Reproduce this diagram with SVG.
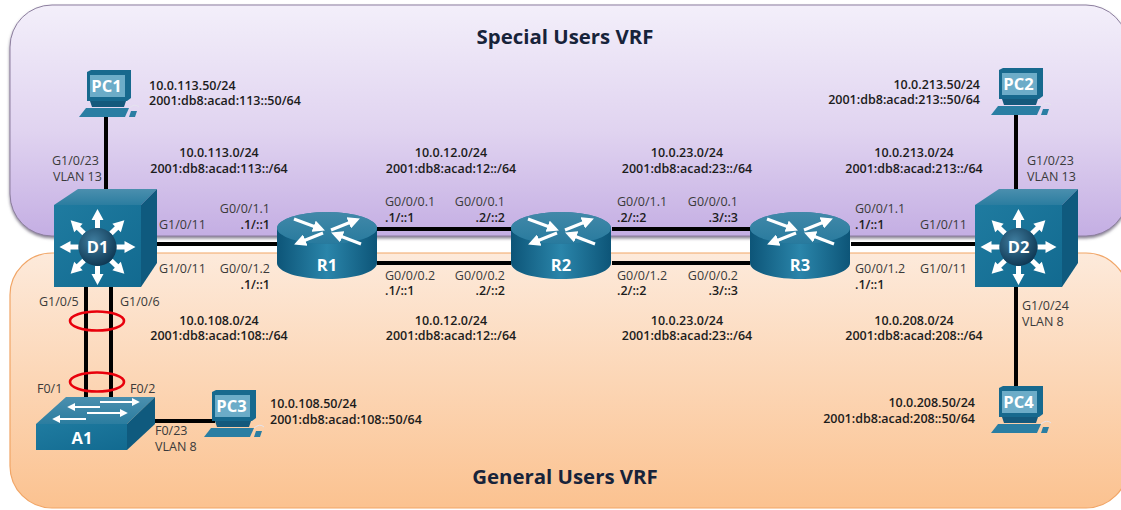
<svg xmlns="http://www.w3.org/2000/svg" width="1121" height="510" viewBox="0 0 1121 510">
<style>
text{font-family:"Open Sans","Liberation Sans",sans-serif;font-size:12.5px;fill:#3a3a3a}
.b{font-size:12.5px;font-weight:600;fill:#1c1c1c}
.m{text-anchor:middle}
.e{text-anchor:end}
.t{font-size:20.4px;font-weight:700;fill:#17233a;text-anchor:middle}
.n{font-weight:700;fill:#fff;text-anchor:middle;font-size:16.500px}
.l{stroke:#000;stroke-width:4;fill:none}
.r{fill:none;stroke:#e8000c;stroke-width:2.6}
.w{stroke:#fff;stroke-width:3;fill:none}
.s{stroke-width:2}
</style>
<defs>
<linearGradient id="gp" x1="0" y1="0" x2="0" y2="1"><stop offset="0" stop-color="#f3effa"/><stop offset=".55" stop-color="#e0d3f0"/><stop offset="1" stop-color="#c4aee3"/></linearGradient>
<linearGradient id="go" x1="0" y1="0" x2="0" y2="1"><stop offset="0" stop-color="#fdeadb"/><stop offset="1" stop-color="#fbc290"/></linearGradient>
<linearGradient id="gf" x1="0" y1="0" x2="1" y2="1"><stop offset="0" stop-color="#1f7ba0"/><stop offset="1" stop-color="#126a90"/></linearGradient>
<linearGradient id="gt" x1="0" y1="0" x2="0" y2="1"><stop offset="0" stop-color="#4b8fae"/><stop offset="1" stop-color="#2b7da0"/></linearGradient>
<linearGradient id="gs" x1="0" y1="0" x2="1" y2="0"><stop offset="0" stop-color="#0d5578"/><stop offset=".5" stop-color="#2a85aa"/><stop offset="1" stop-color="#0d5578"/></linearGradient>
<radialGradient id="gb" cx=".4" cy=".35" r=".7"><stop offset="0" stop-color="#3f7d9f"/><stop offset="1" stop-color="#0d3550"/></radialGradient>
<filter id="sh" x="-2%" y="-2%" width="104%" height="108%"><feDropShadow dx="0" dy="2" stdDeviation="1.5" flood-color="#6c6478" flood-opacity=".8"/></filter>
<marker id="ah" markerWidth="4" markerHeight="4" refX="2.6" refY="2" orient="auto"><path d="M0 0L4 2L0 4Z" fill="#fff"/></marker>
<g id="arr"><path d="M-2.500 -19V-27H-6L0 -38L6 -27H2.500V-19Z" fill="#fff"/></g>
<g id="mls">
<path d="M0 16L24 0H103L87 16Z" fill="url(#gt)"/>
<path d="M87 16L103 0V74L87 98Z" fill="#0f5a7e"/>
<rect x="0" y="16" width="87" height="82" fill="url(#gf)"/>
<g transform="translate(43.500 58)">
<use href="#arr"/><use href="#arr" transform="rotate(45)"/><use href="#arr" transform="rotate(90)"/><use href="#arr" transform="rotate(135)"/><use href="#arr" transform="rotate(180)"/><use href="#arr" transform="rotate(225)"/><use href="#arr" transform="rotate(270)"/><use href="#arr" transform="rotate(315)"/>
<circle r="19" fill="url(#gb)"/>
</g>
</g>
<g id="rtr">
<path d="M0 16V51C0 60 22 67 50 67S100 60 100 51V16Z" fill="url(#gs)"/>
<ellipse cx="50" cy="16" rx="50" ry="16" fill="#1c6f94"/>
<ellipse cx="50" cy="16" rx="50" ry="16" fill="url(#gt)" opacity=".8"/>
<path class="w" marker-end="url(#ah)" d="M17 7L44 17"/>
<path class="w" marker-end="url(#ah)" d="M54 18L79 8"/>
<path class="w" marker-end="url(#ah)" d="M46 21L21 31"/>
<path class="w" marker-end="url(#ah)" d="M84 32L58 22"/>
</g>
<g id="pc">
<path d="M8 2L12 0H52V28L48 31H8Z" fill="#17698e"/>
<rect x="11" y="5" width="35" height="22" fill="#6cacc8"/>
<path d="M11 31H47L45 37H13Z" fill="#14597c"/>
<path d="M0 47L7 38H50L46 47Z" fill="#2a7ea3"/>
<path d="M50 47L52 41H58L56 47Z" fill="#2a7ea3"/>
<path d="M50 38Q56 33 60 37" fill="none" stroke="#e4e4ee" stroke-width="1"/>
</g>
</defs>

<g id="panels">
<rect id="special-vrf" x="10" y="5" width="1118" height="231" rx="42" fill="url(#gp)" stroke="#8d7f9f" filter="url(#sh)"/>
<rect id="general-vrf" x="10" y="253" width="1118" height="255" rx="42" fill="url(#go)" stroke="#f1a566" stroke-width="1.2"/>
<text class="t" x="565" y="44">Special Users VRF</text>
<text class="t" x="565" y="484">General Users VRF</text>
</g>

<g id="connectors">
<path class="l" d="M106 117V190"/>
<path class="l" d="M1016 115V190"/>
<path class="l" d="M1016 287V386"/>
<path class="l" d="M157 244H277"/>
<path class="l" d="M377 229H511"/>
<path class="l" d="M377 263H511"/>
<path class="l" d="M612 229H750"/>
<path class="l" d="M612 263H750"/>
<path class="l" d="M851 244H975"/>
<path class="l" d="M86 287V398"/>
<path class="l" d="M111 287V398"/>
<path class="l" d="M155 421H215"/>
<ellipse class="r" cx="97" cy="321" rx="27" ry="9.500"/>
<ellipse class="r" cx="97" cy="382" rx="27" ry="9.500"/>
</g>

<g id="PC1"><use href="#pc" x="79" y="70"/><text class="n" x="106.500" y="92">PC1</text>
<text class="b" x="149" y="90">10.0.113.50/24</text><text class="b" x="149" y="105">2001:db8:acad:113::50/64</text></g>
<g id="PC2"><use href="#pc" x="991" y="68"/><text class="n" x="1018.500" y="90">PC2</text>
<text class="b e" x="980" y="89">10.0.213.50/24</text><text class="b e" x="980" y="104">2001:db8:acad:213::50/64</text></g>
<g id="PC3"><use href="#pc" x="204" y="390"/><text class="n" x="231.500" y="412">PC3</text>
<text class="b" x="270" y="408">10.0.108.50/24</text><text class="b" x="270" y="424">2001:db8:acad:108::50/64</text></g>
<g id="PC4"><use href="#pc" x="991" y="386"/><text class="n" x="1018.500" y="408">PC4</text>
<text class="b e" x="975" y="407">10.0.208.50/24</text><text class="b e" x="975" y="423">2001:db8:acad:208::50/64</text></g>

<g id="D1"><use href="#mls" x="54" y="189"/><text class="n" x="97.500" y="253">D1</text></g>
<g id="D2"><use href="#mls" x="975" y="189"/><text class="n" x="1018.500" y="253">D2</text></g>
<g id="R1"><use href="#rtr" x="277" y="212"/><text class="n" x="327" y="271">R1</text></g>
<g id="R2"><use href="#rtr" x="511" y="212"/><text class="n" x="561" y="271">R2</text></g>
<g id="R3"><use href="#rtr" x="750" y="212"/><text class="n" x="800" y="271">R3</text></g>
<g id="A1">
<path d="M36 424L66 397H155L127 424Z" fill="url(#gt)"/>
<path d="M127 424L155 397V424L127 450Z" fill="#0f5a7e"/>
<rect x="36" y="424" width="91" height="26" fill="url(#gf)"/>
<path class="w s" marker-end="url(#ah)" d="M100 402H137"/>
<path class="w s" marker-end="url(#ah)" d="M100 407H70"/>
<path class="w s" marker-end="url(#ah)" d="M87 413H125"/>
<path class="w s" marker-end="url(#ah)" d="M86 419H55"/>
<text class="n" x="82" y="444">A1</text>
</g>

<g id="labels">
<text x="52" y="165">G1/0/23</text><text x="53" y="181">VLAN 13</text>
<text class="b m" x="219" y="157">10.0.113.0/24</text><text class="b m" x="219" y="173">2001:db8:acad:113::/64</text>
<text x="159" y="229">G1/0/11</text><text class="e" x="270" y="213">G0/0/1.1</text><text class="b e" x="270" y="229">.1/::1</text>
<text x="159" y="273">G1/0/11</text><text class="e" x="270" y="273">G0/0/1.2</text><text class="b e" x="270" y="289">.1/::1</text>
<text x="39" y="306">G1/0/5</text><text x="120" y="306">G1/0/6</text>
<text class="b m" x="219" y="325">10.0.108.0/24</text><text class="b m" x="219" y="340">2001:db8:acad:108::/64</text>
<text x="37" y="393">F0/1</text><text x="130" y="393">F0/2</text>
<text x="155" y="435">F0/23</text><text x="155" y="451">VLAN 8</text>

<text class="b m" x="451" y="157">10.0.12.0/24</text><text class="b m" x="451" y="173">2001:db8:acad:12::/64</text>
<text x="385" y="206">G0/0/0.1</text><text class="b" x="385" y="222">.1/::1</text><text class="e" x="505" y="206">G0/0/0.1</text><text class="b e" x="505" y="222">.2/::2</text>
<text x="385" y="280">G0/0/0.2</text><text class="b" x="385" y="295">.1/::1</text><text class="e" x="505" y="280">G0/0/0.2</text><text class="b e" x="505" y="295">.2/::2</text>
<text class="b m" x="451" y="325">10.0.12.0/24</text><text class="b m" x="451" y="340">2001:db8:acad:12::/64</text>

<text class="b m" x="687" y="157">10.0.23.0/24</text><text class="b m" x="687" y="173">2001:db8:acad:23::/64</text>
<text x="617" y="206">G0/0/1.1</text><text class="b" x="617" y="222">.2/::2</text><text class="e" x="738" y="206">G0/0/0.1</text><text class="b e" x="738" y="222">.3/::3</text>
<text x="617" y="280">G0/0/1.2</text><text class="b" x="617" y="295">.2/::2</text><text class="e" x="738" y="280">G0/0/0.2</text><text class="b e" x="738" y="295">.3/::3</text>
<text class="b m" x="687" y="325">10.0.23.0/24</text><text class="b m" x="687" y="340">2001:db8:acad:23::/64</text>

<text class="b m" x="914" y="157">10.0.213.0/24</text><text class="b m" x="914" y="173">2001:db8:acad:213::/64</text>
<text x="855" y="213">G0/0/1.1</text><text class="b" x="855" y="229">.1/::1</text><text x="920" y="229">G1/0/11</text>
<text x="855" y="273">G0/0/1.2</text><text class="b" x="855" y="289">.1/::1</text><text x="920" y="273">G1/0/11</text>
<text class="b m" x="914" y="325">10.0.208.0/24</text><text class="b m" x="914" y="340">2001:db8:acad:208::/64</text>
<text x="1027" y="165">G1/0/23</text><text x="1027" y="181">VLAN 13</text>
<text x="1022" y="310">G1/0/24</text><text x="1022" y="326">VLAN 8</text>
</g>
</svg>
